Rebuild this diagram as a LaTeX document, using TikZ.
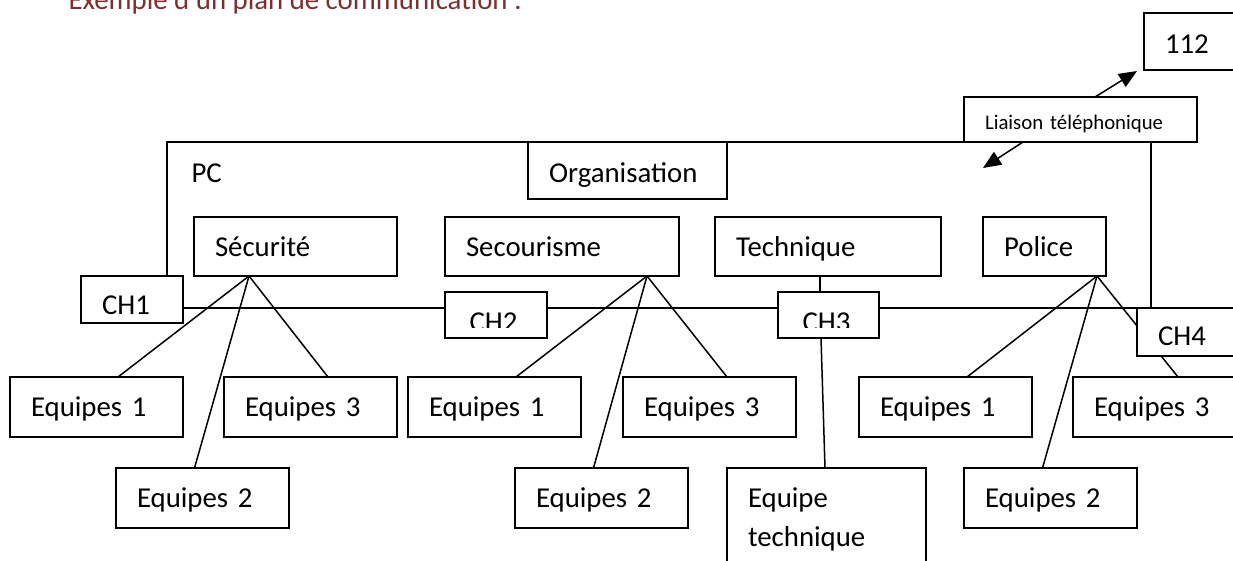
\documentclass[tikz,border=0pt]{standalone}
\usepackage{fontspec}
\setmainfont{Carlito}
\usetikzlibrary{arrows.meta}
\pgfdeclarelayer{bg}
\pgfsetlayers{bg,main}
\definecolor{titlered}{RGB}{125,46,46}
\newcommand{\txtsize}{\fontsize{28.8pt}{39pt}\selectfont}
\tikzset{
  box/.style={draw, fill=white, line width=1.5pt, anchor=north west,
    inner xsep=21pt, inner ysep=0pt, outer sep=0pt, align=left,
    text height=39pt, font=\txtsize},
  smalltxt/.style={font=\fontsize{20.8pt}{26pt}\selectfont},
  plain/.style={anchor=base west, font=\txtsize},
  link/.style={line width=1.5pt},
  tel/.style={line width=1.5pt, -{Triangle[length=18pt,width=15pt]}}
}
\begin{document}
\begin{tikzpicture}[x=1pt, y=-1pt]
    \useasboundingbox (0,0) rectangle (1233,560);
    \node[plain, text=titlered] (titre) at (65,9) {Exemple d'un plan de communication :};

    \node[box, text width=64pt, text height=40pt, text depth=17pt] (urgence) at (1144,13) {112};
    \node[box, smalltxt, text width=191pt, text height=32pt, text depth=13pt] (liaison) at (964,97) {Liaison téléphonique};

    \node[plain] (pc) at (188,182) {PC};
    \node[box, text width=157pt, text height=40pt, text depth=17pt] (orga) at (528,142) {Organisation};

    \node[box, text width=161pt, text depth=20pt] (secu) at (194,217) {Sécurité};
    \node[box, text width=192pt, text depth=20pt] (secour) at (445,217) {Secourisme};
    \node[box, text width=184pt, text depth=20pt] (tech) at (715,217) {Technique};
    \node[box, text width=81pt, text depth=20pt] (police) at (983,217) {Police};

    \node[box, text width=60pt, text height=38pt, text depth=9pt] (ch1) at (81,276) {CH1};
    \node[box, text width=60pt, text depth=7pt] (ch2) at (445,292) {};
    \node[box, text width=59pt, text depth=7pt] (ch3) at (778,292) {};
    \node[box, text width=68pt, text height=37pt, text depth=11pt] (ch4) at (1137,308) {CH4};
    \begin{scope}
      \clip (ch2.north west) rectangle ([yshift=11pt]ch2.south east);
      \node[plain] (ch2txt) at (466,331) {CH2};
    \end{scope}
    \begin{scope}
      \clip (ch3.north west) rectangle ([yshift=11pt]ch3.south east);
      \node[plain] (ch3txt) at (799,331) {CH3};
    \end{scope}

    \foreach \n/\x/\y/\t in {e1a/10/377/1, e3a/224/377/3, e2a/116/468/2,
      e1b/408/377/1, e3b/623/377/3, e2b/515/468/2,
      e1c/859/377/1, e2c/964/468/2}
      { \node[box, text width=131pt, text depth=21pt] (\n) at (\x,\y) {Equipes \t}; }
    \node[box, text width=133pt, text depth=21pt] (e3c) at (1073,377) {Equipes 3};
    \node[box, text width=157pt, text depth=69pt] (equipetech) at (727,468) {Equipe\\technique};

    \coordinate (fana) at ([xshift=-46.5pt]secu.south);
    \coordinate (fanb) at ([xshift=85pt]secour.south);
    \coordinate (fanc) at ([xshift=52.5pt]police.south);
    \coordinate (versPC) at (983,168);

    \begin{pgfonlayer}{bg}
      % cadre du PC et ligne des canaux
      \draw[link] (167,276) |- (1151,142) -- (1151,308);
      \draw[link] ([yshift=-8.5pt]ch1.east) -- (ch4.north west);
      \foreach \g in {a,b,c} {
        \draw[link] (fan\g) -- ([xshift=21.5pt]e1\g.north);
        \draw[link] (fan\g) -- ([xshift=-8pt]e2\g.north);
        \draw[link] (fan\g) -- ([xshift=17.5pt]e3\g.north);
      }
      \draw[link] ([xshift=-8pt]tech.south) -- ([xshift=-8.5pt]ch3.north);
      \draw[link] ([xshift=-7.5pt]ch3.south) -- ([xshift=-1.5pt]equipetech.north);
    \end{pgfonlayer}
    \draw[tel] ([xshift=14.5pt]liaison.north) -- ([xshift=-7pt,yshift=-1pt]urgence.south west);
    \draw[tel] ([xshift=-57.5pt]liaison.south) -- (versPC);
  \end{tikzpicture}
\end{document}
